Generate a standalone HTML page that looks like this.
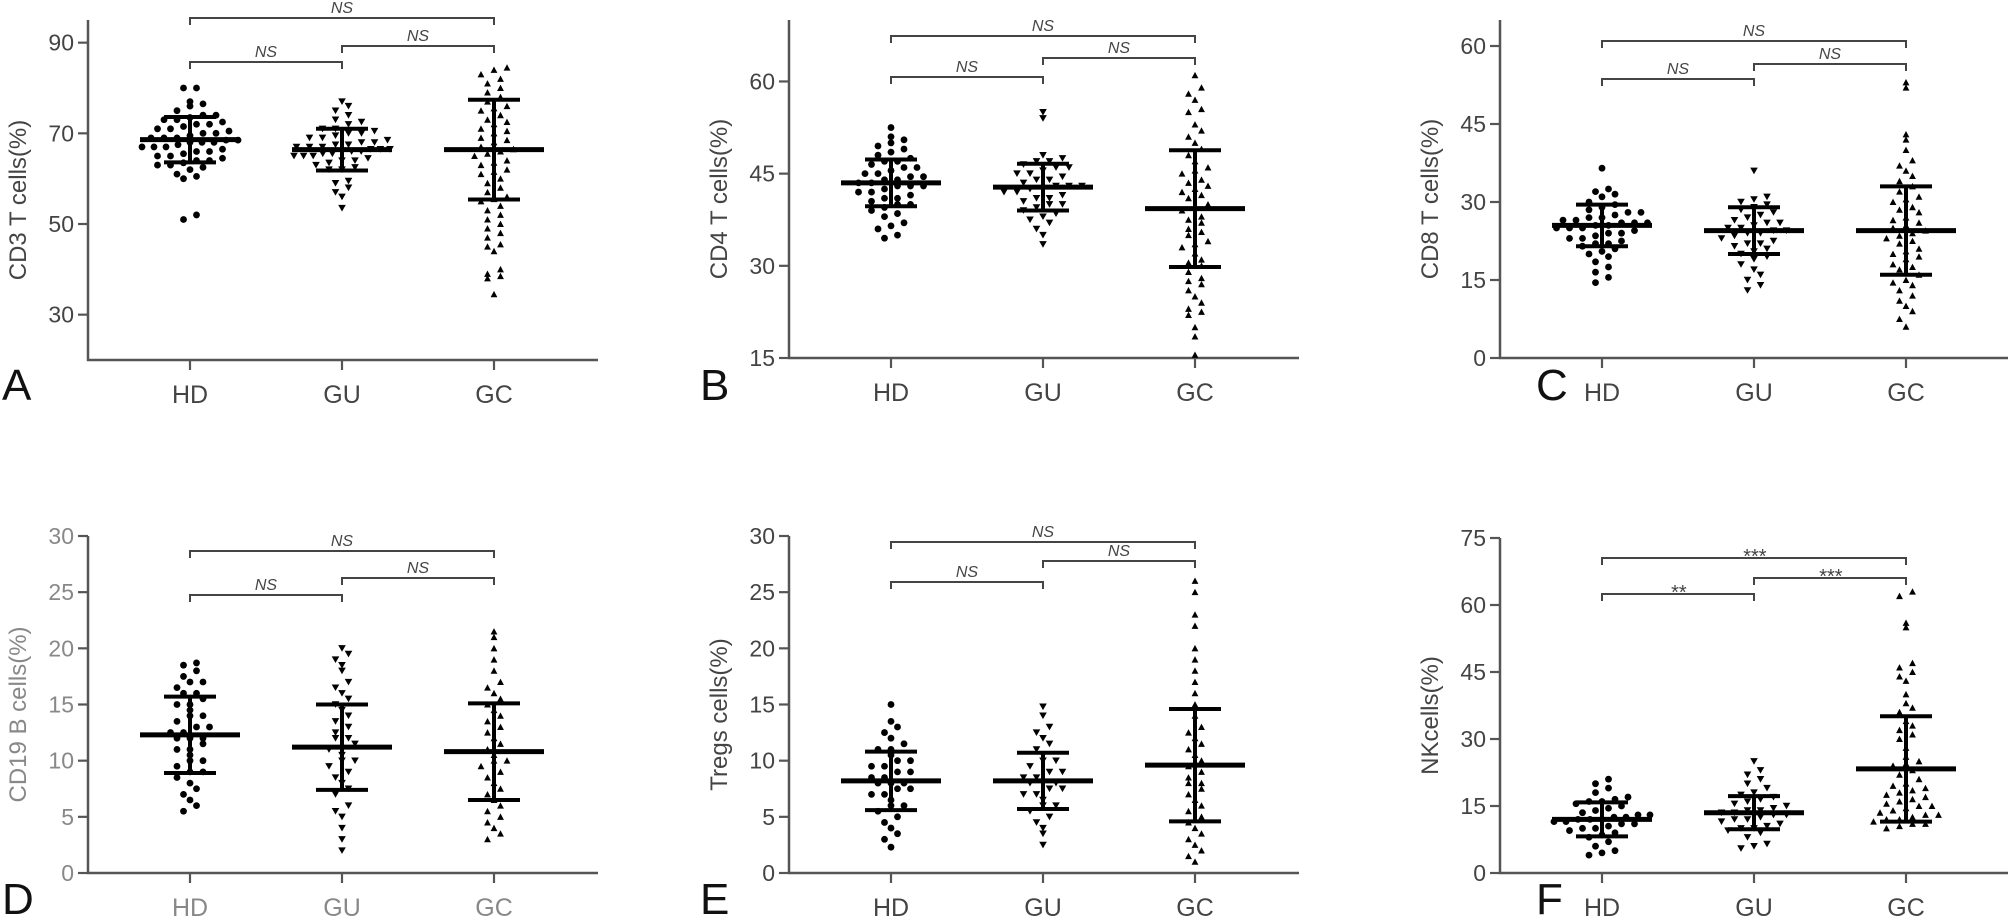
<!DOCTYPE html>
<html><head><meta charset="utf-8"><style>
html,body{margin:0;padding:0;background:#fff;}
svg{display:block;font-family:"Liberation Sans",Arial,sans-serif;}
</style></head><body>
<svg id="fig" width="2008" height="919" viewBox="0 0 2008 919" xmlns="http://www.w3.org/2000/svg"></svg>
<script>
const categories = ["HD","GU","GC"];
// Panel A CD3
const cd3HD=[51,52,60,60.5,61,62,62.5,63,63,63.5,64,64,64.5,65,65,65.5,66,66,66.5,67,67,67,67.5,68,68,68,68.5,68.5,69,69,69,69.5,70,70,70.5,71,71,71.5,72,72,72.5,73,73,73.5,74,74,75,76,76.5,77,80,80];
const cd3GU=[53.5,56,57,58,59,59.5,62,62,62.5,63,63.5,64,64,64.5,65,65,65,65.5,65.5,66,66,66,66.5,66.5,66.5,67,67,67,67.5,67.5,68,68,68.5,69,69,69.5,70,70,70.5,71,71,72,72.5,73,74,75,76,77];
const cd3GC=[34.5,38,38.5,39,40,44,45,45.5,47,48,49,50,51,52,53,54,55,55.5,56,57,58,59,60,61,61.5,62,63,63.5,64,65,65.5,66,66.5,67,68,68.5,69,70,70.5,71,72,72.5,73,74,75,75.5,76,77,78,79,80,81,82,83,84,84.5];
const cd3Mean=[68.6,66.4,66.4], cd3SD=[5,4.6,11];
// Panel B CD4
const cd4HD=[34.5,35,36,36.5,37,38,38.5,39,39.5,40,40,40.5,41,41,41.5,42,42,42.5,43,43,43,43.5,43.5,44,44,44.5,44.5,45,45,45.5,46,46,46.5,47,47,47.5,48,48.5,49,49.5,50,50.5,51,52.5];
const cd4GU=[33.5,35,36,37,37.5,38,38.5,39,39.5,40,40,40.5,41,41,41.5,42,42,42.5,42.5,43,43,43,43.5,44,44,44.5,45,45,45.5,46,46,46.5,47,47,47.5,48,54,55];
const cd4GC=[15.5,18.5,20,22,22.5,23,24,25,26,27,27.5,28,29,30,30.5,31,32,33,33.5,34,35,35.5,36,37,37.5,38,39,39.5,40,41,41.5,42,42.5,43,43.5,44,45,45.5,46,47,48,49,50,51,52,53,55,55.5,57,58,59,61];
const cd4Mean=[43.5,42.8,39.3], cd4SD=[3.8,3.8,9.5];
// Panel C CD8
const cd8HD=[14.5,15.5,16.5,17.5,18.5,19.5,20,20.5,21,21.5,22,22,22.5,23,23,23.5,24,24,24.5,25,25,25,25.5,25.5,26,26,26,26.5,26.5,27,27,27.5,28,28,28.5,29,29.5,30,31,31.5,32,32.5,36.5];
const cd8GU=[13,14,15,16,17,18,19,19.5,20,20.5,21,21.5,22,22,22.5,23,23.5,24,24,24.5,24.5,25,25,25.5,26,26,26.5,27,27.5,28,28.5,29,29.5,30,30.5,31,36];
const cd8GC=[6,7.5,9,10,11,12,13,14,14.5,15,16,17,17.5,18,19,19.5,20,20.5,21,22,22.5,23,23.5,24,24.5,25,25.5,26,26.5,27,28,28.5,29,30,30.5,31,32,33,34,35,36,37,38,40,42,43,52,53];
const cd8Mean=[25.5,24.5,24.5], cd8SD=[4,4.5,8.5];
// Panel D CD19
const cd19HD=[5.5,6,6.5,7,7.5,8,8.5,9,9,9.5,10,10,10.5,11,11,11.5,12,12,12,12.5,12.5,13,13,13.5,14,14,14.5,15,15,15.5,16,16,16.5,17,17,17.5,18,18.5,18.7];
const cd19GU=[2,3,4,5,5.5,6,7,7.5,8,8.5,9,9.5,10,10,10.5,11,11,11.5,12,12,12.5,13,13.5,14,14.5,15,15.5,16,16.5,17,18,18.5,19,19.5,20];
const cd19GC=[3,3.5,4,4.5,5,5.5,6,6.5,7,7.5,8,8.5,9,9.5,10,10,10.5,11,11.5,12,12.5,13,13.5,14,14.5,15,15.5,16,16.5,17,18,19,20,21,21.5];
const cd19Mean=[12.3,11.2,10.8], cd19SD=[3.4,3.8,4.3];
// Panel E Tregs
const tregHD=[2.3,3,3.5,4,4.5,5,5.5,6,6,6.5,7,7,7.5,7.5,8,8,8,8.5,8.5,9,9,9.5,9.5,10,10,10.5,11,11,11.5,12,12.5,13,13.5,15];
const tregGU=[2.5,3.5,4,4.5,5,5.5,6,6,6.5,7,7,7.5,7.5,8,8,8,8.5,8.5,9,9,9.5,10,10,10.5,11,11.5,12,12.5,13,14,14.8];
const tregGC=[1,1.5,2,2.5,3,3.5,4,4.5,5,5.5,6,6.5,7,7.5,8,8,8.5,9,9.5,10,10.5,11,11.5,12,12.5,13,14,15,16,17,18,19,20,22,23,25,26];
const tregMean=[8.2,8.2,9.6], tregSD=[2.6,2.5,5];
// Panel F NK
const nkHD=[4,4.5,5,6,7,8,8.5,9,9.5,10,10,10.5,11,11,11.5,11.5,12,12,12,12.5,12.5,13,13,13.5,14,14.5,15,15.5,16,16,16.5,17,18,19,20,21];
const nkGU=[5.5,6,6.5,8,9,9.5,10,10,10.5,11,11.5,12,12,12.5,13,13,13.5,13.5,14,14,14.5,15,15.5,16,16.5,17,17.5,18,19,20,21,22,23,25];
const nkGC=[10,10.5,11,11,11.5,12,12,12.5,13,13,13.5,14,14.5,15,15,15.5,16,16.5,17,17.5,18,18.5,19,19.5,20,21,22,23,24,24.5,25,26,28,30,31,32,33,34,36,37,38,40,43,44,45,46,47,55,56,62,63];
const nkMean=[12,13.5,23.3], nkSD=[3.8,3.7,11.8];

const ticksA=[30,50,70,90], ticksB=[15,30,45,60], ticksC=[0,15,30,45,60];
const ticksD=[0,5,10,15,20,25,30], ticksE=[0,5,10,15,20,25,30], ticksF=[0,15,30,45,60,75];
const sigA=["NS","NS","NS"], sigF=["***","***","**"];

const NS="http://www.w3.org/2000/svg";
const svg=document.getElementById('fig');
function mk(tag,attrs,parent){const e=document.createElementNS(NS,tag);for(const k in attrs)e.setAttribute(k,attrs[k]);(parent||svg).appendChild(e);return e;}

const panels=[
 {id:'a',letter:'A',ax:88,xy:360,ty:20,min:20,max:95,ticks:ticksA,title:'CD3 T cells(%)',groups:[cd3HD,cd3GU,cd3GC],mean:cd3Mean,sd:cd3SD,br:[18,46,62],sig:sigA,lx:2,ly:400,col:'#444'},
 {id:'b',letter:'B',ax:789,xy:358,ty:20,min:15,max:70,ticks:ticksB,title:'CD4 T cells(%)',groups:[cd4HD,cd4GU,cd4GC],mean:cd4Mean,sd:cd4SD,br:[36,58,77],sig:sigA,lx:700,ly:400,col:'#444'},
 {id:'c',letter:'C',ax:1500,xy:358,ty:20,min:0,max:65,ticks:ticksC,title:'CD8 T cells(%)',groups:[cd8HD,cd8GU,cd8GC],mean:cd8Mean,sd:cd8SD,br:[41,64,79],sig:sigA,lx:1536,ly:400,col:'#444'},
 {id:'d',letter:'D',ax:88,xy:873,ty:536,min:0,max:30,ticks:ticksD,title:'CD19 B cells(%)',groups:[cd19HD,cd19GU,cd19GC],mean:cd19Mean,sd:cd19SD,br:[551,578,595],sig:sigA,lx:2,ly:914,col:'#888'},
 {id:'e',letter:'E',ax:789,xy:873,ty:536,min:0,max:30,ticks:ticksE,title:'Tregs cells(%)',groups:[tregHD,tregGU,tregGC],mean:tregMean,sd:tregSD,br:[542,561,582],sig:sigA,lx:700,ly:914,col:'#444'},
 {id:'f',letter:'F',ax:1500,xy:873,ty:538,min:0,max:75,ticks:ticksF,title:'NKcells(%)',groups:[nkHD,nkGU,nkGC],mean:nkMean,sd:nkSD,br:[558,578,594],sig:sigF,lx:1536,ly:914,col:'#444'}
];

function marker(g,kind,x,y){
  let e;
  if(kind===0){e=mk('circle',{cx:x,cy:y,r:3.4,fill:'#000'},g);}
  else if(kind===1){e=mk('polygon',{points:`${x-3.8},${y-3.2} ${x+3.8},${y-3.2} ${x},${y+3.4}`,fill:'#000'},g);}
  else {e=mk('polygon',{points:`${x-3.4},${y+3} ${x+3.4},${y+3} ${x},${y-3.4}`,fill:'#000'},g);}
  
  
}

panels.forEach(p=>{
  const g=mk('g',{});
  
  
  const yS=v=>p.xy-(v-p.min)*(p.xy-p.ty)/(p.max-p.min);
  const xS=i=>p.ax+102+i*152;
  const right=Math.min(p.ax+510,2008);
  const ya=mk('line',{x1:p.ax,y1:p.ty,x2:p.ax,y2:p.xy+1,stroke:'#555','stroke-width':2.5},g);
  
  const xa=mk('line',{x1:p.ax-1,y1:p.xy,x2:right,y2:p.xy,stroke:'#555','stroke-width':2.5},g);
  
  p.ticks.forEach(t=>{
    const y=yS(t);
    mk('line',{x1:p.ax-10,y1:y,x2:p.ax,y2:y,stroke:'#555','stroke-width':2.2},g);
    const tx=mk('text',{x:p.ax-14,y:y+8,'text-anchor':'end','font-size':23,fill:p.col},g);
    tx.textContent=t;
    
  });
  categories.forEach((c,i)=>{
    const x=xS(i);
    mk('line',{x1:x,y1:p.xy,x2:x,y2:p.xy+10,stroke:'#555','stroke-width':2.2},g);
    const tx=mk('text',{x:x,y:p.xy+43,'text-anchor':'middle','font-size':25,fill:p.col},g);
    tx.textContent=c;
    
  });
  const cy=(p.ty+p.xy)/2+10;
  const tt=mk('text',{x:0,y:0,'text-anchor':'middle','font-size':24,fill:p.col,transform:`translate(${p.ax-62},${cy}) rotate(-90)`},g);
  tt.textContent=p.title;
  
  const lt=mk('text',{x:p.lx,y:p.ly,'font-size':44,fill:'#111'},g);
  lt.textContent=p.letter;
  
  p.groups.forEach((vals,i)=>{
    const bins={};
    vals.forEach(v=>{const b=Math.round(yS(v)/9);(bins[b]=bins[b]||[]).push(v);});
    Object.keys(bins).forEach(b=>{
      const arr=bins[b];const n=arr.length;
      const step=n>1?Math.min(13,96/(n-1)):0;
      arr.forEach((v,k)=>marker(g,i,xS(i)+(k-(n-1)/2)*step,yS(v)));
    });
    const m=p.mean[i],s=p.sd[i],x=xS(i);
    const ml=mk('line',{x1:x-50,y1:yS(m),x2:x+50,y2:yS(m),stroke:'#000','stroke-width':5},g);
    
    const sl=mk('line',{x1:x,y1:yS(m+s),x2:x,y2:yS(m-s),stroke:'#000','stroke-width':4},g);
    
    [m+s,m-s].forEach(v=>{mk('line',{x1:x-26,y1:yS(v),x2:x+26,y2:yS(v),stroke:'#000','stroke-width':4},g);});
  });
  const pairs=[[0,2],[1,2],[0,1]];
  pairs.forEach((pr,k)=>{
    const y=p.br[k],x1=xS(pr[0]),x2=xS(pr[1]);
    const br=mk('path',{d:`M${x1},${y+7} V${y} H${x2} V${y+7}`,fill:'none',stroke:'#444','stroke-width':2},g);
    
    const star=p.sig[k].indexOf('*')>=0;
    const tx=mk('text',{x:(x1+x2)/2,y:star?y+5:y-5,'text-anchor':'middle','font-size':star?20:16,'font-style':'italic',fill:'#444'},g);
    tx.textContent=p.sig[k];
    
  });
});
</script>
</body></html>
